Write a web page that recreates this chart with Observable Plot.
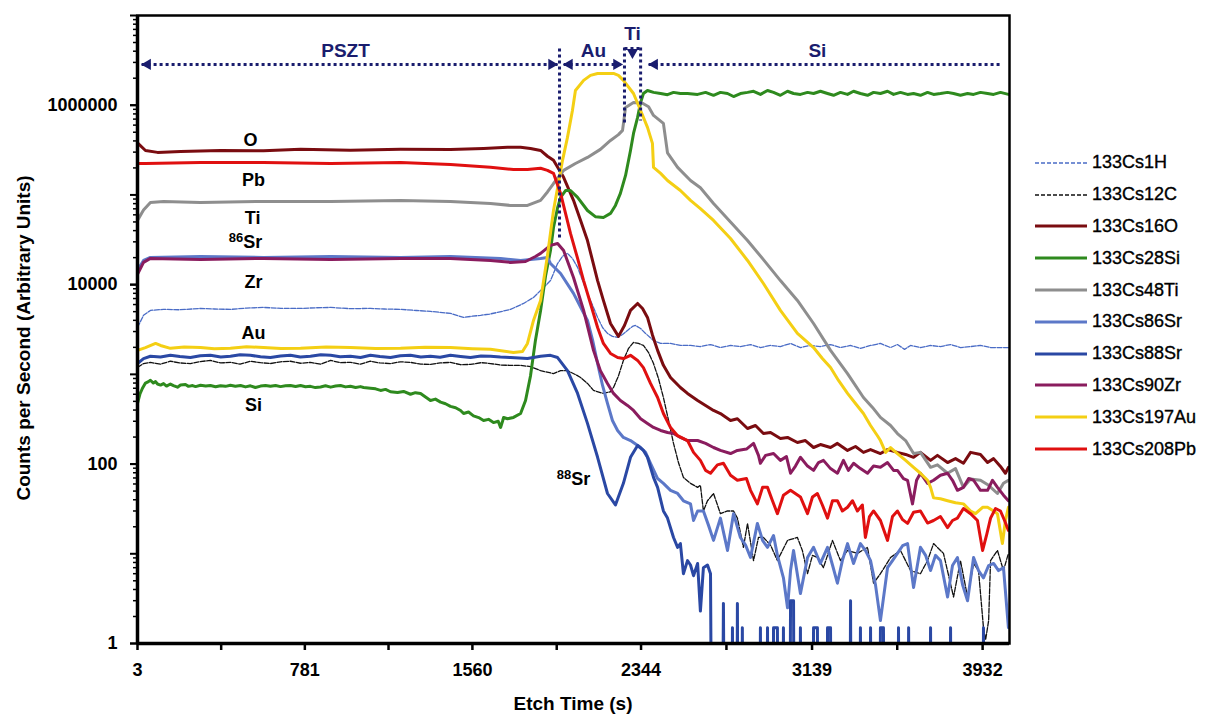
<!DOCTYPE html>
<html><head><meta charset="utf-8">
<script src="https://cdn.jsdelivr.net/npm/d3@7"></script>
<script src="https://cdn.jsdelivr.net/npm/@observablehq/plot@0.6"></script>
<style>
body{margin:0;background:#fff;}
#wrap{position:relative;width:1205px;height:715px;font-family:"Liberation Sans",Arial,sans-serif;background:#fff;}
#legend{position:absolute;left:1035px;top:147px;}
.row{display:flex;align-items:center;height:31.8px;}
.row span{font-size:18px;color:#000;margin-left:5px;-webkit-text-stroke:0.35px #000;}
.title{position:absolute;font-size:19px;font-weight:bold;color:#000;white-space:nowrap;line-height:19px;}
#xtitle{left:573px;top:694px;transform:translateX(-50%);}
#ytitle{left:23px;top:338px;transform:translate(-50%,-50%) rotate(-90deg);}
</style></head><body><div id="wrap"><div id="legend"></div>
<div class="title" id="xtitle"></div><div class="title" id="ytitle"></div></div>
<script>
// ---- data: [etch time (s), counts per second] ----
const s1H = [[3,3330],[31,4550],[63,5160],[124,5300],[200,5250],[296,5430],[360,5350],[435,5300],[510,5480],[589,5570],[670,5450],[761,5430],[830,5520],[901,5570],[990,5400],[1086,5430],[1150,5350],[1226,5300],[1300,5150],[1365,5030],[1458,4780],[1519,4310],[1560,4450],[1598,4550],[1640,4700],[1677,4900],[1737,5300],[1798,6170],[1844,7200],[1877,8610],[1923,11100],[1956,17200],[1979,20700],[2002,22300],[2025,19600],[2049,15600],[2072,11100],[2095,7980],[2119,5860],[2142,4310],[2165,3330],[2188,2860],[2211,2650],[2235,2580],[2258,2780],[2281,3090],[2304,3420],[2318,3510],[2342,3240],[2365,2860],[2402,2390],[2435,2210],[2481,2210],[2527,2100],[2574,2100],[2620,2040],[2667,2150],[2713,1990],[2760,2100],[2806,2040],[2853,2150],[2899,1990],[2946,2100],[2992,2040],[3039,2210],[3085,1990],[3132,2100],[3178,2040],[3225,2150],[3271,1990],[3318,2100],[3364,1950],[3411,2100],[3457,2210],[3504,1990],[3536,2150],[3569,1900],[3597,2100],[3643,1990],[3690,2100],[3736,2040],[3783,2150],[3829,1990],[3876,2040],[3922,2100],[3969,1990],[4015,1990],[4052,1990]];
const s12C = [[3,1190],[31,1320],[63,1360],[110,1300],[156,1400],[200,1340],[249,1320],[295,1390],[342,1430],[390,1340],[435,1360],[480,1300],[528,1400],[575,1350],[621,1320],[668,1380],[714,1400],[760,1330],[807,1360],[855,1300],[901,1430],[945,1350],[993,1360],[1040,1300],[1086,1400],[1130,1340],[1179,1320],[1225,1380],[1272,1360],[1320,1300],[1365,1290],[1410,1340],[1458,1360],[1505,1280],[1551,1290],[1600,1350],[1644,1320],[1690,1270],[1737,1260],[1784,1260],[1830,1220],[1877,1100],[1937,1020],[1970,1100],[2002,1100],[2039,995],[2063,923],[2095,792],[2123,662],[2169,613],[2202,640],[2216,714],[2239,960],[2262,1430],[2286,1950],[2309,2270],[2332,2210],[2355,2100],[2379,1750],[2402,1320],[2425,900],[2448,552],[2472,306],[2495,170],[2518,104],[2541,71],[2574,61],[2607,55],[2620,58],[2634,30],[2653,39],[2681,47],[2713,28],[2746,30],[2774,30],[2792,25],[2820,11.8],[2839,21.8],[2867,8.4],[2890,15.2],[2913,15.2],[2946,12.5],[2978,8.4],[3025,14.1],[3071,15.2],[3094,10.9],[3118,6.0],[3141,9.6],[3164,9.1],[3192,7.0],[3234,14.1],[3271,8.4],[3304,10.9],[3350,10.1],[3397,11.8],[3425,4.7],[3457,6.0],[3504,9.1],[3550,10.9],[3597,6.5],[3643,6.0],[3676,8.4],[3704,13.0],[3750,10.1],[3797,3.3],[3829,8.4],[3862,3.3],[3890,7.8],[3913,6.5],[3936,1.5],[3946,1.1],[3960,1.8],[3969,8.4],[4001,10.9],[4029,6.5],[4052,10.1]];
const s16O = [[3,380000],[40,313000],[96,298000],[203,305000],[389,313000],[589,310000],[761,322000],[993,315000],[1226,322000],[1458,320000],[1612,330000],[1723,339000],[1784,340000],[1830,330000],[1877,313000],[1909,270000],[1937,243000],[1984,157000],[2030,87000],[2063,52000],[2095,31000],[2142,11100],[2169,6670],[2202,3690],[2239,2650],[2267,3510],[2295,5160],[2328,6170],[2351,5430],[2374,4310],[2397,2750],[2421,1850],[2448,1260],[2481,923],[2527,714],[2560,613],[2607,512],[2644,450],[2681,396],[2713,366],[2760,306],[2792,320],[2839,249],[2876,269],[2913,219],[2946,225],[2992,193],[3025,198],[3071,174],[3108,183],[3146,153],[3178,165],[3225,153],[3257,170],[3304,142],[3341,157],[3378,135],[3411,145],[3457,131],[3490,145],[3536,135],[3574,128],[3611,119],[3643,135],[3690,110],[3722,125],[3769,104],[3806,115],[3843,102],[3876,135],[3922,128],[3955,104],[3983,115],[4015,94],[4038,79],[4052,92]];
const s28Si = [[3,474],[14,600],[26,700],[40,800],[54,830],[63,860],[77,800],[87,830],[96,780],[110,760],[124,790],[138,740],[156,780],[170,750],[189,720],[203,760],[226,770],[240,735],[259,750],[273,730],[296,755],[320,740],[342,752],[366,728],[389,748],[412,735],[435,755],[458,738],[482,752],[505,725],[528,745],[551,714],[575,740],[598,750],[621,735],[645,752],[668,730],[691,745],[714,752],[738,732],[761,750],[784,728],[807,735],[830,712],[854,724],[877,745],[901,720],[924,740],[947,752],[970,725],[993,738],[1017,715],[1040,730],[1054,714],[1086,700],[1110,690],[1133,662],[1156,680],[1179,640],[1212,628],[1240,645],[1272,600],[1295,625],[1319,613],[1342,560],[1365,512],[1388,530],[1412,490],[1435,470],[1458,440],[1482,425],[1505,395],[1519,366],[1542,380],[1565,345],[1589,330],[1612,306],[1635,315],[1658,290],[1680,300],[1691,256],[1700,300],[1705,331],[1723,320],[1751,331],[1784,366],[1807,512],[1830,960],[1853,2390],[1877,5160],[1900,12500],[1923,24000],[1937,43400],[1956,72000],[1970,93800],[1993,112000],[2016,112000],[2049,93800],[2095,67100],[2133,57000],[2169,56100],[2202,62200],[2225,76400],[2248,104000],[2272,165000],[2295,313000],[2309,485000],[2328,731000],[2342,1070000],[2355,1350000],[2374,1460000],[2402,1390000],[2435,1350000],[2467,1310000],[2495,1390000],[2527,1350000],[2560,1350000],[2607,1320000],[2644,1390000],[2681,1290000],[2713,1390000],[2746,1350000],[2774,1250000],[2806,1350000],[2839,1390000],[2867,1430000],[2899,1320000],[2932,1460000],[2960,1390000],[2992,1290000],[3025,1430000],[3053,1350000],[3085,1320000],[3118,1390000],[3146,1350000],[3178,1430000],[3211,1350000],[3239,1290000],[3271,1390000],[3304,1320000],[3332,1430000],[3364,1350000],[3397,1290000],[3425,1390000],[3457,1350000],[3490,1430000],[3518,1320000],[3550,1390000],[3583,1320000],[3611,1350000],[3643,1290000],[3676,1390000],[3704,1320000],[3736,1350000],[3769,1390000],[3797,1350000],[3829,1290000],[3862,1350000],[3890,1320000],[3922,1390000],[3955,1350000],[3983,1320000],[4015,1390000],[4052,1320000]];
const s48Ti = [[3,52000],[31,68000],[63,82500],[124,84700],[296,82500],[589,84700],[901,84700],[1226,86900],[1458,84700],[1644,80400],[1737,76400],[1816,76400],[1877,86900],[1909,108000],[1937,134000],[1984,188000],[2039,224000],[2095,262000],[2155,322000],[2202,405000],[2239,470000],[2258,524000],[2272,945000],[2309,1070000],[2351,1050000],[2379,960000],[2402,769000],[2448,627000],[2467,295000],[2514,203000],[2574,145000],[2620,120000],[2681,80400],[2760,50000],[2839,31100],[2913,19000],[2992,11100],[3071,6670],[3146,3690],[3225,1850],[3304,1020],[3378,552],[3420,428],[3457,331],[3504,269],[3536,219],[3574,183],[3611,131],[3643,135],[3690,92],[3722,98],[3769,79],[3806,89],[3843,55],[3876,68],[3922,66],[3960,58],[4001,47],[4029,61],[4052,66]];
const s86Sr = [[3,14400],[31,18600],[63,20100],[296,20600],[589,20100],[901,20600],[1226,20100],[1458,20600],[1691,19600],[1784,18600],[1877,19600],[1909,20100],[1923,17200],[1970,13300],[2030,7980],[2095,3990],[2119,2390],[2142,1320],[2165,752],[2188,474],[2211,306],[2235,237],[2262,198],[2295,183],[2342,153],[2365,135],[2388,102],[2421,69],[2448,61],[2481,51],[2514,47],[2541,39],[2574,36],[2588,23.5],[2607,30],[2634,30],[2657,21],[2681,14.1],[2713,25],[2746,10.9],[2774,28],[2806,15.2],[2830,12.5],[2853,9.1],[2885,21.8],[2909,14.1],[2932,11.8],[2960,16],[2978,9.6],[3006,5.4],[3025,2.5],[3039,6.5],[3053,10.9],[3085,3.6],[3118,9.1],[3146,11.8],[3178,7.8],[3211,11.8],[3234,7.5],[3257,4.7],[3280,8.4],[3304,13.0],[3332,7.8],[3364,13.0],[3387,10.9],[3411,8.4],[3434,4.5],[3457,1.8],[3490,7.0],[3513,8.4],[3536,10.1],[3560,12.3],[3583,13.0],[3611,4.2],[3643,11.8],[3667,9.6],[3690,6.5],[3713,9.6],[3736,8.4],[3769,3.3],[3792,7.4],[3815,9.1],[3839,4.5],[3862,3.0],[3890,9.1],[3913,6.5],[3936,5.4],[3960,7.4],[3983,7.8],[4006,6.5],[4029,7.0],[4052,1.5]];
const s88Sr = [[3,1320],[31,1500],[63,1590],[110,1560],[156,1630],[200,1580],[249,1540],[295,1610],[342,1630],[390,1560],[435,1590],[480,1650],[528,1630],[575,1570],[621,1540],[668,1600],[714,1630],[760,1560],[807,1590],[855,1650],[901,1630],[945,1570],[993,1590],[1040,1540],[1086,1630],[1130,1580],[1179,1540],[1225,1610],[1272,1630],[1320,1560],[1365,1590],[1410,1550],[1458,1630],[1505,1580],[1551,1540],[1600,1600],[1644,1590],[1690,1560],[1737,1540],[1816,1500],[1877,1590],[1923,1630],[1956,1540],[2002,1100],[2049,613],[2095,284],[2142,119],[2188,47],[2225,35],[2262,61],[2295,119],[2328,161],[2355,142],[2374,119],[2402,71],[2421,55],[2448,30],[2467,25],[2495,15.2],[2514,11.8],[2527,13.0],[2541,6.0],[2560,8.4],[2574,7.5],[2588,5.7],[2607,7.8],[2620,2.3],[2634,7.0],[2653,7.5],[2667,6.0],[2676,0],[2718,0],[2727,2.8],[2736,0],[2764,0],[2769,1.5],[2774,0],[2788,0],[2792,2.8],[2797,0],[2811,0],[2815,1.5],[2820,0],[2894,0],[2899,1.5],[2904,0],[2927,0],[2932,1.5],[2937,0],[2955,0],[2960,1.5],[2978,1.5],[2983,0],[3002,0],[3006,1.5],[3011,0],[3034,0],[3039,3.0],[3053,3.0],[3058,0],[3080,0],[3085,1.5],[3090,0],[3141,0],[3146,1.5],[3164,1.5],[3169,0],[3206,0],[3211,1.5],[3225,1.5],[3230,0],[3313,0],[3318,3.0],[3323,0],[3359,0],[3364,1.5],[3369,0],[3406,0],[3411,1.5],[3416,0],[3452,0],[3457,1.5],[3471,1.5],[3476,0],[3536,0],[3541,1.5],[3546,0],[3583,0],[3588,1.5],[3593,0],[3685,0],[3690,1.5],[3695,0],[3778,0],[3783,1.5],[3788,0],[3932,0],[3936,1.5],[3941,0],[4052,0]];
const s90Zr = [[3,13000],[31,17700],[63,19600],[296,19100],[589,19600],[901,19100],[1226,19600],[1458,19600],[1644,18600],[1737,17700],[1807,18100],[1853,20600],[1877,22300],[1923,27400],[1956,28800],[1984,24000],[2030,12000],[2077,5160],[2123,1850],[2155,1100],[2188,792],[2216,613],[2248,512],[2281,450],[2309,396],[2342,320],[2374,284],[2402,256],[2435,237],[2467,225],[2495,219],[2527,198],[2560,183],[2607,183],[2644,170],[2681,153],[2713,142],[2760,131],[2792,142],[2834,147],[2867,170],[2890,125],[2899,102],[2923,125],[2960,131],[2992,110],[3020,121],[3039,79],[3062,95],[3085,119],[3118,95],[3146,85],[3169,104],[3192,110],[3225,89],[3257,79],[3285,110],[3308,85],[3332,102],[3364,89],[3397,79],[3425,95],[3457,92],[3490,104],[3518,85],[3536,85],[3564,69],[3583,66],[3606,36],[3625,66],[3643,79],[3676,61],[3704,66],[3736,75],[3769,79],[3792,66],[3815,51],[3843,55],[3867,69],[3890,66],[3922,51],[3955,51],[3978,66],[4001,55],[4029,45],[4052,39]];
const s197Au = [[3,1850],[40,1990],[87,2210],[110,2100],[156,1950],[220,2020],[296,1990],[360,1930],[435,1950],[510,2030],[589,1990],[670,1940],[761,1950],[880,2020],[993,1990],[1110,1940],[1226,1950],[1340,2010],[1458,1990],[1560,1930],[1644,1900],[1751,1750],[1793,1800],[1816,2210],[1844,3990],[1877,6670],[1909,21200],[1937,67100],[1979,243000],[2002,438000],[2025,874000],[2039,1460000],[2077,1890000],[2109,2150000],[2142,2260000],[2216,2260000],[2239,2150000],[2262,1890000],[2309,1350000],[2342,874000],[2374,566000],[2397,375000],[2402,203000],[2435,174000],[2467,145000],[2527,112000],[2574,86900],[2620,70500],[2681,52000],[2760,32700],[2839,18600],[2913,10300],[2992,5160],[3071,2860],[3146,1990],[3187,1500],[3225,1190],[3262,855],[3304,613],[3341,474],[3378,366],[3411,269],[3443,207],[3457,183],[3481,135],[3504,153],[3536,131],[3574,110],[3611,92],[3643,79],[3676,66],[3690,55],[3704,42],[3736,41],[3769,39],[3806,37],[3843,36],[3876,30],[3899,28],[3932,33],[3955,33],[3983,30],[4001,28],[4024,13],[4038,23.5],[4052,33]];
const s208Pb = [[3,224000],[40,224000],[296,230000],[589,230000],[901,224000],[1226,230000],[1458,218000],[1644,203000],[1751,192000],[1816,192000],[1877,198000],[1909,188000],[1937,174000],[1970,104000],[1993,62200],[2016,37200],[2049,19600],[2077,11100],[2109,6170],[2142,3330],[2169,2210],[2202,1710],[2235,1540],[2262,1500],[2295,1630],[2328,1430],[2355,1190],[2388,792],[2421,552],[2448,366],[2481,256],[2514,207],[2560,183],[2588,135],[2620,110],[2644,85],[2667,79],[2699,98],[2727,102],[2760,75],[2792,66],[2834,69],[2853,51],[2885,36],[2909,55],[2932,55],[2955,39],[2978,28],[3006,45],[3039,51],[3085,43],[3118,28],[3141,43],[3164,47],[3187,35],[3211,25],[3234,39],[3257,39],[3280,30],[3304,33],[3327,39],[3350,30],[3373,35],[3387,15.2],[3406,26],[3425,30],[3457,23.5],[3490,14.1],[3513,26],[3536,30],[3560,24],[3583,21.8],[3611,29],[3643,30],[3676,22],[3704,23.5],[3736,26],[3769,19.6],[3792,23.5],[3815,25],[3843,32],[3876,28],[3908,23.5],[3932,10.9],[3950,16],[3969,25],[3992,32],[4015,30],[4034,23.5],[4052,18.2]];

const seriesNames = ["133Cs1H","133Cs12C","133Cs16O","133Cs28Si","133Cs48Ti","133Cs86Sr","133Cs88Sr","133Cs90Zr","133Cs197Au","133Cs208Pb"];
const seriesData = [s1H, s12C, s16O, s28Si, s48Ti, s86Sr, s88Sr, s90Zr, s197Au, s208Pb];

// axis ticks and titles
const xTicks = [3, 392, 781, 1170, 1560, 1952, 2344, 2741, 3139, 3535, 3932];
const xTickLabels = [3, 781, 1560, 2344, 3139, 3932];
const yTickLabels = [1, 100, 10000, 1000000];
const xTitle = "Etch Time (s)";
const yTitle = "Counts per Second (Arbitrary Units)";

// annotations (data coordinates)
const elementLabels = [
  {t:"O", x:528, y:405000}, {t:"Pb", x:542, y:145000}, {t:"Ti", x:538, y:54700},
  {t:"86Sr", x:505, y:31100}, {t:"Zr", x:542, y:10600}, {t:"Au", x:542, y:2860},
  {t:"Si", x:542, y:450}, {t:"88Sr", x:2030, y:71}
];
const layerSpans = [{x1:22, x2:1956}, {x1:1984, x2:2258}, {x1:2379, x2:4015}];
const layerNames = [{t:"PSZT", x:970, y:4080000}, {t:"Au", x:2123, y:4080000}, {t:"Ti", x:2304, y:6300000}, {t:"Si", x:3164, y:4080000}];
const boundaries = [{x:1965, y1:4300000, y2:31100}, {x:2267, y1:4410000, y2:596000}, {x:2342, y1:4410000, y2:677000}];
const tiSpan = [{x1:2267, x2:2342, y:4300000}];
const arrowHeads = [
  {x:50, y:2850000, r:-90}, {x:1928, y:2850000, r:90},
  {x:2011, y:2850000, r:-90}, {x:2230, y:2850000, r:90},
  {x:2407, y:2850000, r:-90}, {x:2304, y:3880000, r:180}
];
const spanY = 2850000;

// ---- styles ----
const colors = ["#4a6cc6","#111111","#7a0c10","#2e8a1e","#8e8e8e","#5c78c8","#2a48a4","#8a1c5e","#f4cf14","#e01010"];
const widths = [1.3,1.3,3,3,3,3,3,3,3,3];
const dashes = ["5,1.5","5,1.5",null,null,null,null,null,null,null,null];
const legendDashes = ["4,2","4,2",null,null,null,null,null,null,null,null];
const navy = "#1a1d6e";
const FLOOR = 1e-3;

const marks = [
  Plot.axisX({ticks: xTicks, tickSize: 7, tickPadding: 13, strokeWidth: 2.5,
    tickFormat: d => xTickLabels.includes(d) ? String(d) : "", label: null, fontSize: 18}),
  Plot.axisY({ticks: d3.range(0, 8).map(e => Math.pow(10, e)), tickSize: 7, tickFormat: () => "", label: null, strokeWidth: 2}),
  Plot.axisY({ticks: d3.range(0, 7).flatMap(e => d3.range(2, 10).map(k => k * Math.pow(10, e))), tickSize: 4, tickFormat: () => "", label: null, strokeWidth: 1.5}),
  Plot.axisY({ticks: yTickLabels, tickSize: 7, tickPadding: 13, strokeWidth: 2, tickFormat: d => String(d), label: null, fontSize: 18}),
];
seriesData.forEach((data, i) => {
  marks.push(Plot.line(data, {
    x: d => d[0], y: d => Math.max(d[1], FLOOR), clip: true,
    stroke: colors[i], strokeWidth: widths[i], strokeDasharray: dashes[i] || undefined,
    strokeLinejoin: "round"
  }));
});
marks.push(
  Plot.link(layerSpans, {x1: "x1", x2: "x2", y1: () => spanY, y2: () => spanY, stroke: navy, strokeWidth: 3, strokeDasharray: "3,3"}),
  Plot.link(tiSpan, {x1: "x1", x2: "x2", y1: "y", y2: "y", stroke: navy, strokeWidth: 3, strokeDasharray: "3,3"}),
  Plot.link(boundaries, {x1: "x", x2: "x", y1: "y1", y2: "y2", stroke: navy, strokeWidth: 3, strokeDasharray: "3,3"}),
  Plot.dot(arrowHeads, {x: "x", y: "y", rotate: "r", symbol: "triangle", r: 4.2, fill: navy, stroke: "none"}),
  Plot.text(layerNames, {x: "x", y: "y", text: "t", fill: navy, fontSize: 19, fontWeight: "bold"}),
  Plot.text(elementLabels, {x: "x", y: "y", text: "t", fill: "#000", fontSize: 18, fontWeight: "bold"}),
  Plot.ruleX([3], {stroke: "#000", strokeWidth: 3.5}),
  Plot.ruleY([1], {stroke: "#000", strokeWidth: 3.5}),
  Plot.frame({stroke: "#000", strokeWidth: 2.5})
);

const chart = Plot.plot({
  width: 1205, height: 715,
  marginLeft: 137, marginRight: 196, marginTop: 15, marginBottom: 72,
  x: {type: "linear", domain: [3, 4057]},
  y: {type: "log", domain: [1, 1e7]},
  style: {fontFamily: "'Liberation Sans', Arial, sans-serif", fontSize: "18px", fontWeight: "bold", color: "#000", background: "#fff", overflow: "visible"},
  marks
});

// superscript isotope numbers in element labels
d3.select(chart).selectAll("text").each(function() {
  const el = d3.select(this);
  if (el.selectAll("tspan").size() > 0) return;
  const m = /^(\d\d)(Sr)$/.exec(el.text());
  if (m) {
    el.text("");
    el.append("tspan").attr("font-size", 13).attr("dy", "-0.35em").text(m[1]);
    el.append("tspan").attr("dy", "0.35em").text(m[2]);
  }
});

const wrap = document.getElementById("wrap");
wrap.insertBefore(chart, wrap.firstChild);
document.getElementById("xtitle").textContent = xTitle;
document.getElementById("ytitle").textContent = yTitle;

// legend
const legend = d3.select("#legend");
seriesNames.forEach((name, i) => {
  const row = legend.append("div").attr("class", "row");
  const svg = row.append("svg").attr("width", 52).attr("height", 10);
  svg.append("line").attr("x1", 0).attr("x2", 52).attr("y1", 5).attr("y2", 5)
    .attr("stroke", colors[i]).attr("stroke-width", widths[i] > 2 ? 3 : 1.5)
    .attr("stroke-dasharray", legendDashes[i]);
  row.append("span").text(name);
});
</script></body></html>
